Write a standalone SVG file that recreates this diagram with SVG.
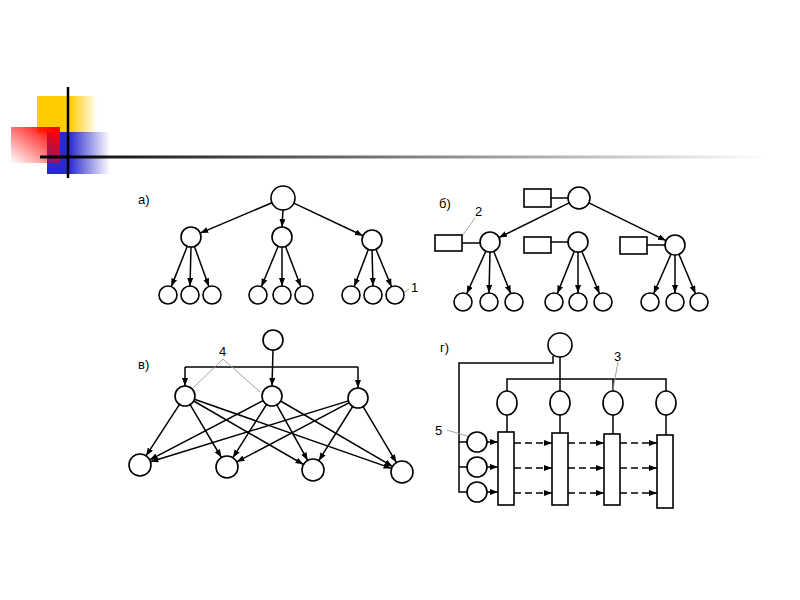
<svg xmlns="http://www.w3.org/2000/svg" width="800" height="600" viewBox="0 0 800 600">
<defs>
<style>
.n{fill:#fff;stroke:#000;stroke-width:1.6}
.e{stroke:#000;stroke-width:1.5;fill:none}
.ea{stroke:#000;stroke-width:1.5;fill:none;marker-end:url(#ah)}
.d{stroke:#000;stroke-width:1.6;fill:none;stroke-dasharray:7 4;marker-end:url(#ah)}
.lead{stroke:#999;stroke-width:0.9;fill:none}
.t{font-family:"Liberation Sans",Arial,sans-serif;font-size:13px;fill:#000}
</style>
<marker id="ah" markerUnits="userSpaceOnUse" markerWidth="9" markerHeight="7" refX="8" refY="3" orient="auto">
<path d="M0,0 L8,3 L0,6 z" fill="#000"/>
</marker>
<linearGradient id="gy" x1="0" y1="0" x2="1" y2="0"><stop offset="0.55" stop-color="#FFCC00"/><stop offset="1" stop-color="#FFCC00" stop-opacity="0"/></linearGradient>
<linearGradient id="gr" x1="1" y1="0" x2="0" y2="1"><stop offset="0.1" stop-color="#FF0000"/><stop offset="1" stop-color="#FF0000" stop-opacity="0"/></linearGradient>
<linearGradient id="gb" x1="0" y1="0" x2="1" y2="0"><stop offset="0.35" stop-color="#2A2ACC"/><stop offset="1" stop-color="#2A2ACC" stop-opacity="0"/></linearGradient>
<linearGradient id="gl" gradientUnits="userSpaceOnUse" x1="40" y1="0" x2="770" y2="0"><stop offset="0" stop-color="#000"/><stop offset="1" stop-color="#000" stop-opacity="0"/></linearGradient>
</defs>
<rect width="800" height="600" fill="#fff"/>
<g id="decoration">
<rect x="37" y="96" width="60" height="37" fill="url(#gy)"/>
<rect x="47" y="132" width="63" height="42" fill="url(#gb)"/>
<rect x="11" y="127" width="49" height="36" fill="url(#gr)"/>
<line x1="68" y1="87" x2="68" y2="178" stroke="#000" stroke-width="2.5"/>
<rect x="40" y="155.5" width="725" height="3" fill="url(#gl)"/>
</g>

<g id="connectors">
<!-- panel a -->
<line class="ea" x1="272" y1="202.7" x2="200.2" y2="233.1"/>
<line class="ea" x1="283" y1="210" x2="282" y2="227"/>
<line class="ea" x1="293.8" y1="203.1" x2="363" y2="235.7"/>
<line class="ea" x1="187.3" y1="246.3" x2="171.3" y2="286.6"/>
<line class="ea" x1="191" y1="247" x2="190" y2="286"/>
<line class="ea" x1="194.4" y1="246.4" x2="208.9" y2="286.5"/>
<line class="ea" x1="278.2" y1="246.2" x2="261.4" y2="286.7"/>
<line class="ea" x1="282" y1="247" x2="282" y2="286"/>
<line class="ea" x1="285.5" y1="246.4" x2="300.8" y2="286.6"/>
<line class="ea" x1="368.4" y1="249.3" x2="354.2" y2="286.6"/>
<line class="ea" x1="372" y1="250" x2="373" y2="286"/>
<line class="ea" x1="375.9" y1="249.2" x2="391.5" y2="286.7"/>
<!-- panel b -->
<line class="ea" x1="569.1" y1="202.9" x2="499" y2="237.6"/>
<line class="ea" x1="588.9" y1="202.8" x2="666" y2="240.6"/>
<line class="e" x1="551" y1="198" x2="568" y2="198"/>
<line class="e" x1="462" y1="243" x2="480" y2="243"/>
<line class="e" x1="551" y1="242" x2="568" y2="242"/>
<line class="e" x1="647" y1="245" x2="665" y2="245"/>
<line class="ea" x1="485.9" y1="251.1" x2="466.7" y2="293.8"/>
<line class="ea" x1="490" y1="252" x2="489" y2="293"/>
<line class="ea" x1="493.7" y1="251.3" x2="510.7" y2="293.6"/>
<line class="ea" x1="574.3" y1="251.3" x2="557.3" y2="293.6"/>
<line class="ea" x1="578" y1="252" x2="578" y2="293"/>
<line class="ea" x1="581.8" y1="251.2" x2="599.5" y2="293.7"/>
<line class="ea" x1="671" y1="254.2" x2="653.6" y2="293.8"/>
<line class="ea" x1="675" y1="255" x2="675" y2="293"/>
<line class="ea" x1="678.9" y1="254.2" x2="695.5" y2="293.7"/>
<!-- panel v -->
<line class="ea" x1="273" y1="350" x2="272" y2="386"/>
<polyline class="ea" points="185,367 185,367 185,386"/>
<polyline class="ea" points="358,367 358,367 358,388"/>
<line class="e" x1="185" y1="367" x2="358" y2="367"/>
<line class="ea" x1="179.5" y1="404.4" x2="146" y2="455.8"/>
<line class="ea" x1="190.1" y1="404.6" x2="221.4" y2="457.5"/>
<line class="ea" x1="193.7" y1="401" x2="303.5" y2="464.5"/>
<line class="ea" x1="194.4" y1="399.3" x2="391.6" y2="468.4"/>
<line class="ea" x1="263.1" y1="400.6" x2="149.7" y2="459.9"/>
<line class="ea" x1="266.6" y1="404.4" x2="232.9" y2="457.7"/>
<line class="ea" x1="276.8" y1="404.8" x2="307.7" y2="460.4"/>
<line class="ea" x1="280.6" y1="401" x2="392.5" y2="466.4"/>
<line class="ea" x1="348.4" y1="400.9" x2="150.5" y2="461.8"/>
<line class="ea" x1="349.2" y1="402.7" x2="236.7" y2="461.9"/>
<line class="ea" x1="352.7" y1="406.5" x2="318.8" y2="460.7"/>
<line class="ea" x1="363.1" y1="406.6" x2="396.4" y2="462.6"/>
<!-- panel g -->
<polyline class="e" points="553,356 553,363 459,363 459,492 467,492"/>
<line class="e" x1="459" y1="442" x2="467" y2="442"/>
<line class="e" x1="459" y1="467" x2="467" y2="467"/>
<line class="e" x1="560" y1="357" x2="560" y2="379"/>
<polyline class="e" points="507,391 507,379 666,379 666,391"/>
<line class="e" x1="560" y1="379" x2="560" y2="391"/>
<line class="e" x1="613" y1="379" x2="613" y2="391"/>
<line class="e" x1="507" y1="415" x2="507" y2="432"/>
<line class="e" x1="560" y1="415" x2="560" y2="433"/>
<line class="e" x1="613" y1="415" x2="613" y2="434"/>
<line class="e" x1="666" y1="415" x2="666" y2="435"/>
<line class="ea" x1="487" y1="442" x2="498" y2="442"/>
<line class="ea" x1="487" y1="467" x2="498" y2="467"/>
<line class="ea" x1="487" y1="492" x2="498" y2="492"/>
<line class="d" x1="514" y1="443" x2="552" y2="443"/>
<line class="d" x1="514" y1="468" x2="552" y2="468"/>
<line class="d" x1="514" y1="493" x2="552" y2="493"/>
<line class="d" x1="568" y1="443" x2="604" y2="443"/>
<line class="d" x1="568" y1="468" x2="604" y2="468"/>
<line class="d" x1="568" y1="493" x2="604" y2="493"/>
<line class="d" x1="620" y1="443" x2="657" y2="443"/>
<line class="d" x1="620" y1="468" x2="657" y2="468"/>
<line class="d" x1="620" y1="493" x2="657" y2="493"/>
<!-- leaders -->
<line class="lead" x1="409" y1="289" x2="398" y2="297"/>
<line class="lead" x1="475" y1="218" x2="462" y2="236"/>
<polyline class="lead" points="193,388 223,359 260,392"/>
<line class="lead" x1="618" y1="362" x2="612" y2="395"/>
<line class="lead" x1="447" y1="430" x2="470" y2="437"/>
</g>

<g id="panel-a">
<text class="t" x="138" y="204">а)</text>
<circle id="a-root" class="n" cx="283" cy="198" r="12"/>
<circle id="a-m1" class="n" cx="191" cy="237" r="10"/>
<circle id="a-m2" class="n" cx="282" cy="237" r="10"/>
<circle id="a-m3" class="n" cx="372" cy="240" r="10"/>
<circle class="n" cx="168" cy="295" r="9"/><circle class="n" cx="190" cy="295" r="9"/><circle class="n" cx="212" cy="295" r="9"/>
<circle class="n" cx="258" cy="295" r="9"/><circle class="n" cx="282" cy="295" r="9"/><circle class="n" cx="304" cy="295" r="9"/>
<circle class="n" cx="351" cy="295" r="9"/><circle class="n" cx="373" cy="295" r="9"/><circle class="n" cx="395" cy="295" r="9"/>
<text class="t" x="411" y="292">1</text>
</g>

<g id="panel-b">
<text class="t" x="439" y="208">б)</text>
<rect class="n" x="524" y="189" width="27" height="18"/>
<circle id="b-root" class="n" cx="579" cy="198" r="11"/>
<rect class="n" x="435" y="235" width="27" height="16"/>
<rect class="n" x="524" y="237" width="27" height="16"/>
<rect class="n" x="620" y="237" width="27" height="17"/>
<circle class="n" cx="490" cy="242" r="10"/>
<circle class="n" cx="578" cy="242" r="10"/>
<circle class="n" cx="675" cy="245" r="10"/>
<circle class="n" cx="463" cy="302" r="9"/><circle class="n" cx="489" cy="302" r="9"/><circle class="n" cx="514" cy="302" r="9"/>
<circle class="n" cx="554" cy="302" r="9"/><circle class="n" cx="578" cy="302" r="9"/><circle class="n" cx="603" cy="302" r="9"/>
<circle class="n" cx="650" cy="302" r="9"/><circle class="n" cx="675" cy="302" r="9"/><circle class="n" cx="699" cy="302" r="9"/>
<text class="t" x="475" y="216">2</text>
</g>

<g id="panel-v">
<text class="t" x="138" y="369">в)</text>
<circle class="n" cx="273" cy="340" r="10"/>
<circle class="n" cx="185" cy="396" r="10"/>
<circle class="n" cx="272" cy="396" r="10"/>
<circle class="n" cx="358" cy="398" r="10"/>
<circle class="n" cx="140" cy="465" r="11"/>
<circle class="n" cx="227" cy="467" r="11"/>
<circle class="n" cx="313" cy="470" r="11"/>
<circle class="n" cx="402" cy="472" r="11"/>
<text class="t" x="219" y="356">4</text>
</g>

<g id="panel-g">
<text class="t" x="440" y="352">г)</text>
<circle class="n" cx="560" cy="345" r="12"/>
<ellipse class="n" cx="507" cy="403" rx="10" ry="12"/>
<ellipse class="n" cx="560" cy="403" rx="10" ry="12"/>
<ellipse class="n" cx="613" cy="403" rx="10" ry="12"/>
<ellipse class="n" cx="666" cy="403" rx="10" ry="12"/>
<rect class="n" x="498" y="432" width="16" height="73"/>
<rect class="n" x="552" y="433" width="16" height="72"/>
<rect class="n" x="604" y="434" width="16" height="71"/>
<rect class="n" x="657" y="435" width="16" height="73"/>
<circle class="n" cx="477" cy="442" r="10"/>
<circle class="n" cx="477" cy="467" r="10"/>
<circle class="n" cx="477" cy="492" r="10"/>
<text class="t" x="614" y="361">3</text>
<text class="t" x="435" y="435">5</text>
</g>
</svg>
